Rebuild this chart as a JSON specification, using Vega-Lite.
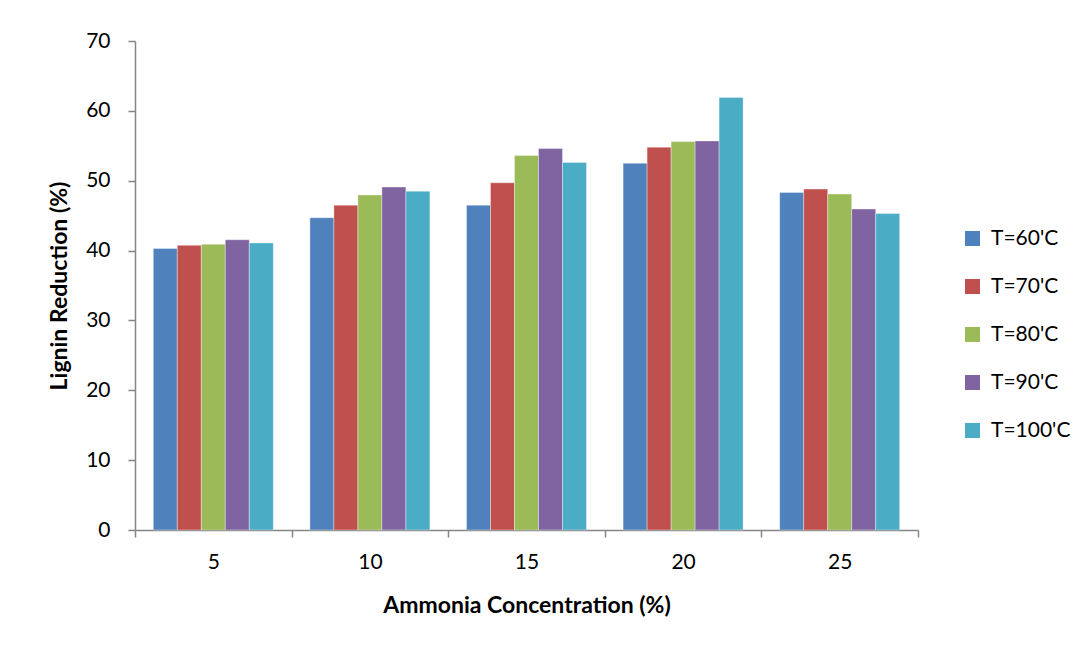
{
  "$schema": "https://vega.github.io/schema/vega-lite/v6.json",
  "width": 783,
  "height": 489,
  "autosize": "none",
  "padding": {"left": 135, "top": 41, "right": 163, "bottom": 116},
  "background": "white",
  "config": {
    "font": "Lato",
    "view": {"stroke": null}
  },
  "data": {
    "values": [
      {"conc": "5", "temp": "T=60'C", "lignin": 40.3},
      {"conc": "5", "temp": "T=70'C", "lignin": 40.75},
      {"conc": "5", "temp": "T=80'C", "lignin": 40.9},
      {"conc": "5", "temp": "T=90'C", "lignin": 41.55},
      {"conc": "5", "temp": "T=100'C", "lignin": 41.1},
      {"conc": "10", "temp": "T=60'C", "lignin": 44.7},
      {"conc": "10", "temp": "T=70'C", "lignin": 46.5},
      {"conc": "10", "temp": "T=80'C", "lignin": 47.95},
      {"conc": "10", "temp": "T=90'C", "lignin": 49.1},
      {"conc": "10", "temp": "T=100'C", "lignin": 48.5},
      {"conc": "15", "temp": "T=60'C", "lignin": 46.5},
      {"conc": "15", "temp": "T=70'C", "lignin": 49.7},
      {"conc": "15", "temp": "T=80'C", "lignin": 53.6},
      {"conc": "15", "temp": "T=90'C", "lignin": 54.6},
      {"conc": "15", "temp": "T=100'C", "lignin": 52.6},
      {"conc": "20", "temp": "T=60'C", "lignin": 52.5},
      {"conc": "20", "temp": "T=70'C", "lignin": 54.8},
      {"conc": "20", "temp": "T=80'C", "lignin": 55.6},
      {"conc": "20", "temp": "T=90'C", "lignin": 55.7},
      {"conc": "20", "temp": "T=100'C", "lignin": 61.9},
      {"conc": "25", "temp": "T=60'C", "lignin": 48.3},
      {"conc": "25", "temp": "T=70'C", "lignin": 48.8},
      {"conc": "25", "temp": "T=80'C", "lignin": 48.1},
      {"conc": "25", "temp": "T=90'C", "lignin": 45.95},
      {"conc": "25", "temp": "T=100'C", "lignin": 45.3}
    ]
  },
  "mark": {"type": "bar", "stroke": "white", "strokeWidth": 0.6, "strokeOpacity": 0.6},
  "encoding": {
    "x": {
      "field": "conc",
      "type": "nominal",
      "sort": ["5", "10", "15", "20", "25"],
      "scale": {"paddingInner": 0, "paddingOuter": 0},
      "axis": {
        "title": "Ammonia Concentration (%)",
        "titleFontSize": 23,
        "titleFontWeight": "bold",
        "titleColor": "black",
        "titlePadding": 22,
        "labelAngle": 0,
        "labelFontSize": 21,
        "labelColor": "black",
        "labelPadding": 14,
        "tickBand": "extent",
        "tickSize": 7,
        "tickColor": "#868686",
        "domainColor": "#868686",
        "domainWidth": 1.5,
        "tickWidth": 1.5
      }
    },
    "xOffset": {
      "field": "temp",
      "type": "nominal",
      "sort": ["T=60'C", "T=70'C", "T=80'C", "T=90'C", "T=100'C"],
      "scale": {"paddingInner": 0, "paddingOuter": 0.7625}
    },
    "y": {
      "field": "lignin",
      "type": "quantitative",
      "scale": {"domain": [0, 70]},
      "axis": {
        "title": "Lignin Reduction (%)",
        "titleFontSize": 23,
        "titleFontWeight": "bold",
        "titleColor": "black",
        "titlePadding": 14,
        "values": [0, 10, 20, 30, 40, 50, 60, 70],
        "labelFontSize": 21,
        "labelColor": "black",
        "labelPadding": 18,
        "grid": false,
        "tickSize": 7,
        "tickColor": "#868686",
        "domainColor": "#868686",
        "domainWidth": 1.5,
        "tickWidth": 1.5
      }
    },
    "color": {
      "field": "temp",
      "type": "nominal",
      "sort": ["T=60'C", "T=70'C", "T=80'C", "T=90'C", "T=100'C"],
      "scale": {
        "domain": ["T=60'C", "T=70'C", "T=80'C", "T=90'C", "T=100'C"],
        "range": ["#4F81BD", "#C0504D", "#9BBB59", "#8064A2", "#4BACC6"]
      },
      "legend": {
        "title": null,
        "orient": "none",
        "legendX": 827,
        "legendY": 187,
        "symbolType": "square",
        "symbolSize": 225,
        "symbolStrokeWidth": 0,
        "labelFontSize": 21,
        "labelColor": "black",
        "labelOffset": 8,
        "rowPadding": 26
      }
    }
  }
}
